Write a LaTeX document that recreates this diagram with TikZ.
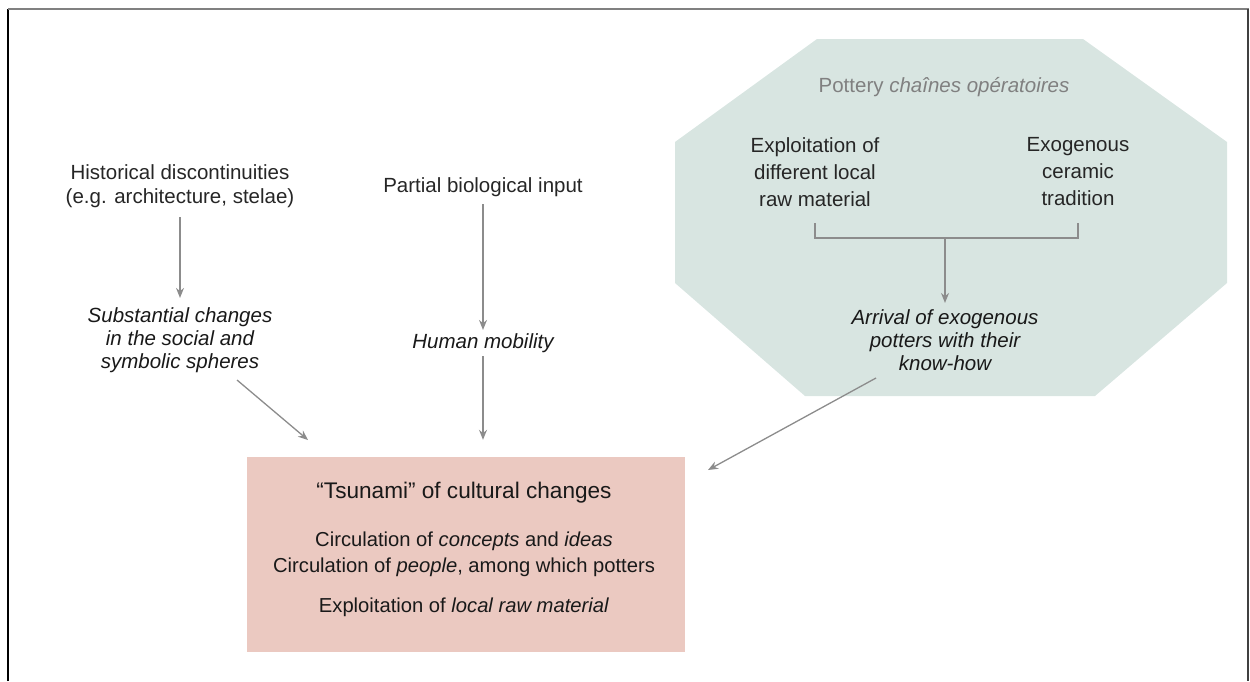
\documentclass[tikz,border=0pt]{standalone}
\usepackage{fontspec}
\setmainfont{Liberation Sans}
\usetikzlibrary{arrows.meta, positioning}
\definecolor{octfill}{HTML}{D8E5E1}
\definecolor{tsufill}{HTML}{EBC9C1}
\definecolor{linegray}{HTML}{8C8C8C}

\begin{document}
\begin{tikzpicture}[
x=1pt, y=-1pt,
>=Stealth,
label/.style={align=center, font=\fontsize{20.5}{24}\selectfont, text=black!85},
cause/.style={align=center, font=\fontsize{20.5}{23}\selectfont\itshape, text=black!90},
potlabel/.style={align=center, font=\fontsize{20.5}{27}\selectfont, text=black!85},
boxtext/.style={align=center, font=\fontsize{20.2}{26}\selectfont, text=black!90},
arrow/.style={-{Stealth[length=10pt,width=8pt]}, draw=linegray, line width=1.3pt},
link/.style={draw=linegray, line width=1.3pt}
]
\useasboundingbox (0,0) rectangle (1250,681);

% frame
\draw[black, line width=1.5pt] (8,681) -- (8,9);
\draw[gray, line width=2pt] (8,9) -- (1249,9);
\draw[black!75, line width=1.5pt] (1248,9) -- (1248,681);

% pottery octagon
\fill[octfill] (817,39) -- (1083,39) -- (1227,142) -- (1227,283) -- (1095,396)
  -- (805,396) -- (675,283) -- (675,142) -- cycle;

\node[potlabel, text=black!50] (pot) at (944,87) {Pottery \textit{chaînes opératoires}};
\node[potlabel] (raw) at (815,172) {Exploitation of\\different local\\raw material};
\node[potlabel] (exo) at (1078,172) {Exogenous\\ceramic\\tradition};
\node[cause] (arr) at (945,340) {Arrival of exogenous\\potters with their\\know-how};

\coordinate (brk) at (945,238);
\draw[link] (raw.south |- 0,223) |- (brk) -| (exo.south |- 0,223);
\draw[arrow, shorten >=3pt] (brk) -- (arr.north);

% left side
\node[label] (hist) at (180,186) {Historical discontinuities\\(e.g. architecture, stelae)};
\node[cause] (subst) at (180,340) {Substantial changes\\in the social and\\symbolic spheres};
\node[label] (bio) at (483,187) {Partial biological input};
\node[cause] (mob) at (483,343) {Human mobility};

% tsunami box
\node[fill=tsufill, minimum width=438pt, minimum height=195pt] (tsu) at (466,554.5) {};
\node[boxtext, font=\fontsize{22.6}{27}\selectfont] (title) at (464,493) {“Tsunami” of cultural changes};
\node[boxtext] (circ) at (464,554) {Circulation of \textit{concepts} and \textit{ideas}\\Circulation of \textit{people}, among which potters};
\node[boxtext] (expl) at (464,607) {Exploitation of \textit{local raw material}};

\coordinate (substend) at (237,380);
\coordinate (tsuleft) at (308,440);
\coordinate (arrend) at (876,378);
\coordinate (tsuright) at (708,470);

\draw[arrow, shorten <=6pt, shorten >=6pt] (hist) -- (subst);
\draw[arrow, shorten <=4pt] (bio) -- (mob);
\draw[arrow, shorten >=17pt] (mob) -- (mob |- tsu.north);
\draw[arrow] (substend) -- (tsuleft);
\draw[arrow] (arrend) -- (tsuright);

\end{tikzpicture}
\end{document}
